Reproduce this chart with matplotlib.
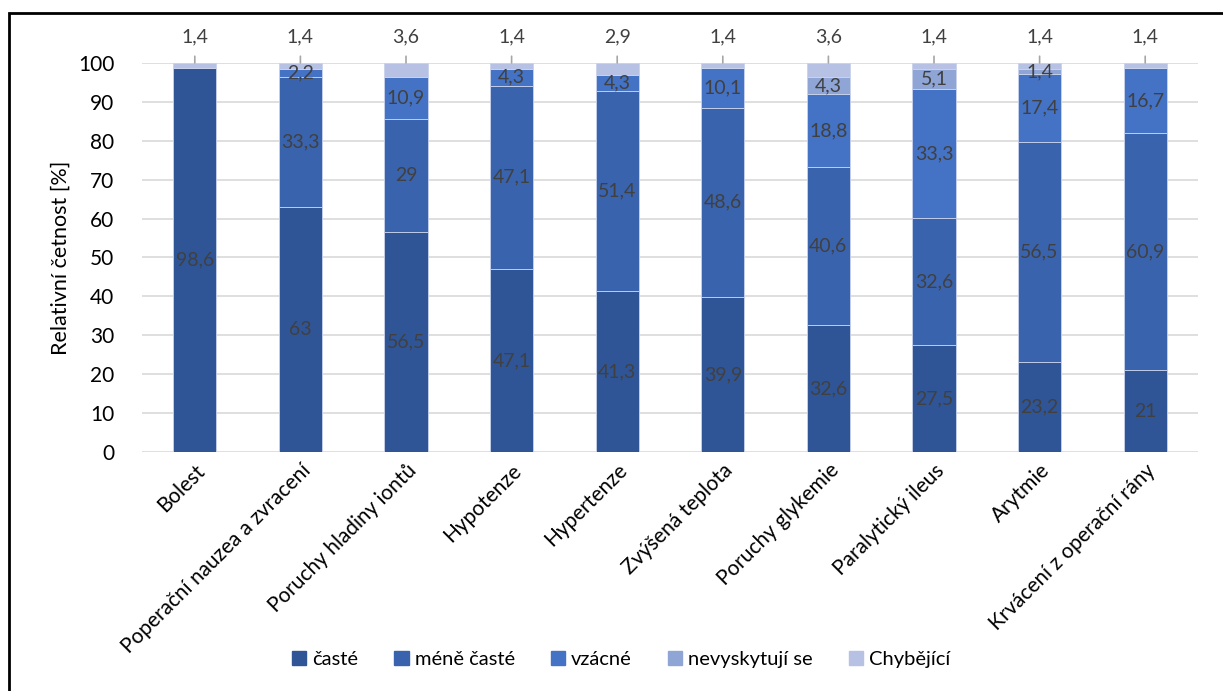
import matplotlib.pyplot as plt
import matplotlib.patches as mpatches
import numpy as np

plt.rcParams['font.family'] = ['Lato', 'DejaVu Sans']

categories = ['Bolest', 'Poperační nauzea a zvracení', 'Poruchy hladiny iontů',
              'Hypotenze', 'Hypertenze', 'Zvýšená teplota', 'Poruchy glykemie',
              'Paralytický ileus', 'Arytmie', 'Krvácení z operační rány']
caste = [98.6, 63, 56.5, 47.1, 41.3, 39.9, 32.6, 27.5, 23.2, 21]
mene_caste = [0, 33.3, 29, 47.1, 51.4, 48.6, 40.6, 32.6, 56.5, 60.9]
vzacne = [0, 2.2, 10.9, 4.3, 4.3, 10.1, 18.8, 33.3, 17.4, 16.7]
nevyskytuji = [0, 0, 0, 0, 0, 0, 4.3, 5.1, 1.4, 0]
chybejici = [1.4, 1.4, 3.6, 1.4, 2.9, 1.4, 3.6, 1.4, 1.4, 1.4]

series = [('časté', caste, '#2F5597'),
          ('méně časté', mene_caste, '#3A63AD'),
          ('vzácné', vzacne, '#4472C4'),
          ('nevyskytují se', nevyskytuji, '#8FA5D6'),
          ('Chybějící', chybejici, '#B6C1E3')]

def fmt(v):
    s = ('%.1f' % v).rstrip('0').rstrip('.')
    return s.replace('.', ',')

fig = plt.figure(figsize=(12.23, 6.91), dpi=100)
ax = fig.add_axes([142 / 1223, 1 - 452 / 691, (1198 - 142) / 1223, (452 - 63) / 691])

x = np.arange(len(categories))
bottom = np.zeros(len(categories))
handles = []
for name, vals, col in series:
    vals = np.array(vals)
    ax.bar(x, vals, 0.41, bottom=bottom, color=col, edgecolor='#C9D3EC',
           linewidth=0.6, zorder=3)
    handles.append(mpatches.Patch(color=col, label=name))
    if name == 'Chybějící':
        for xi, b, v in zip(x, bottom, vals):
            ax.annotate(fmt(v), xy=(xi, 100), xytext=(0, 19), textcoords='offset points',
                        ha='center', va='center', fontsize=14, color='#404040',
                        annotation_clip=False,
                        arrowprops=dict(arrowstyle='-', color='#A6A6A6', lw=1.2,
                                        shrinkA=6, shrinkB=0))
    else:
        for xi, b, v in zip(x, bottom, vals):
            if v > 0:
                ax.text(xi, b + v / 2, fmt(v), ha='center', va='center',
                        fontsize=14, color='#404040', zorder=4)
    bottom += vals

ax.set_xlim(-0.5, 9.5)
ax.set_ylim(0, 100)
ax.set_yticks(np.arange(0, 101, 10))
ax.yaxis.grid(True, color='#D9D9D9', lw=1.2, zorder=0)
for s in ax.spines.values():
    s.set_visible(False)
ax.tick_params(axis='both', length=0, labelsize=15, colors='black')
ax.tick_params(axis='y', pad=20)
ax.tick_params(axis='x', pad=6)
ax.set_xticks(x)
ax.set_xticklabels(categories, rotation=45, ha='right', rotation_mode='anchor')
ax.set_ylabel('Relativní četnost [%]', fontsize=15.5, labelpad=5)

fig.legend(handles=handles, loc='center', bbox_to_anchor=(0.508, 0.045), ncol=5,
           frameon=False, fontsize=14.5, handlelength=0.7, handleheight=0.7,
           handletextpad=0.3, columnspacing=1.8)

# outer frame
fig.add_artist(mpatches.Rectangle((9 / 1223, -0.05), 1.1, 1 - 13 / 691 + 0.05,
                                  transform=fig.transFigure, fill=False,
                                  edgecolor='black', lw=2))

fig.savefig('out.png', dpi=100)
